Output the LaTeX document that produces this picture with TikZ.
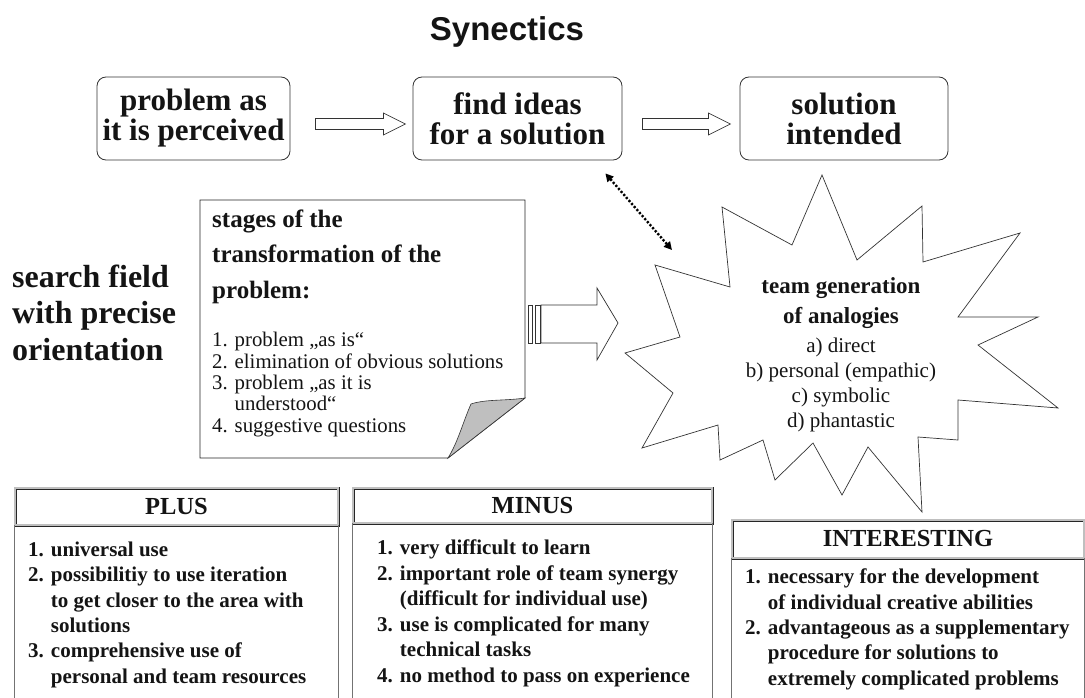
\documentclass[tikz,border=0pt]{standalone}
\usepackage{fontspec}
\setmainfont{Liberation Serif}
\newfontfamily\headfont{Liberation Sans}
\usetikzlibrary{arrows.meta,calc}

\begin{document}
\begin{tikzpicture}[x=1pt,y=-1pt,
  every node/.style={text=black!92},
  rbox/.style={draw=black!80, line width=0.8pt, rounded corners=9pt, align=center,
    inner sep=0pt, font=\fontsize{31}{30}\selectfont\bfseries},
  hollow/.style={draw=black!80, line width=0.7pt, fill=white, line join=miter},
  % multi-line text: the base anchor sits on the last line
  listtext/.style={anchor=base west, inner sep=0pt, align=left},
  headbox/.style={draw=black!85, double=gray!50, double distance=1.2pt, line width=0.9pt,
    inner sep=0pt, font=\fontsize{24.5}{24}\selectfont\bfseries},
  bodyline/.style={draw=black!55, line width=0.6pt},
  starline/.style={draw=black!80, line width=0.7pt, line join=miter},
  pageline/.style={draw=black!85, line width=0.8pt},
  dotarrow/.style={line width=2.4pt, dash pattern=on 2.2pt off 1.8pt,
    {Triangle[length=8pt,width=8pt]}-{Triangle[length=8pt,width=8pt]}},
]
\useasboundingbox (0,0) rectangle (1085,698);

% title
\node[anchor=base, inner sep=0pt, font=\headfont\fontsize{33}{33}\selectfont\bfseries] (title) at (507,41) {Synectics};

% top row of process boxes
\node[rbox, minimum width=193pt, minimum height=83pt] (perc) at (193.5,118.5) {problem as\\it is perceived};
\node[rbox, minimum width=209pt, minimum height=83pt] (ideas) at (517.5,118.5) {find ideas\\for a solution};
\node[rbox, minimum width=208pt, minimum height=83pt] (sol) at (844,118.5) {solution\\intended};

% hollow arrows between the boxes
\draw[hollow, shift={($(perc.east)+(25,5.5)$)}]
  (0,-5.5) -- (68,-5.5) -- (68,-11) -- (90,0) -- (68,11) -- (68,5.5) -- (0,5.5) -- cycle;
\draw[hollow, shift={($(ideas.east)+(20,5.5)$)}]
  (0,-5.5) -- (66,-5.5) -- (66,-11) -- (88,0) -- (66,11) -- (66,5.5) -- (0,5.5) -- cycle;

% left caption
\node[listtext, font=\fontsize{32}{36.5}\selectfont\bfseries] (field) at (12,360) {search field\\with precise\\orientation};

% sheet with a folded corner
\draw[pageline, fill=white] (200,200) -- (525,200) -- (525,398) -- (448,458) -- (200,458) -- cycle;
\filldraw[fill=gray!50, draw=black!80, line width=0.6pt]
  (525,398) .. controls (505,401) and (486,399) .. (471,404)
  .. controls (463,422) and (458,442) .. (448,458) -- cycle;
\coordinate (pageE) at (525,324);
\node[listtext, font=\fontsize{25}{35.5}\selectfont\bfseries] (stagehead) at (212,298)
  {stages of the\\transformation of the\\problem:};
\node[listtext, font=\fontsize{20.8}{21.3}\selectfont] (stages) at (212,432)
  {1. problem „as is“\\2. elimination of obvious solutions\\3. problem „as it is\\\phantom{3. }understood“\\4. suggestive questions};

% block arrow from the sheet towards the star
\begin{scope}[shift={($(pageE)+(3,0)$)}, hollow]
  \draw (0,-19) rectangle (4,19);
  \draw (7,-19) rectangle (12,19);
  \draw (13,-19) -- (69,-19) -- (69,-36) -- (90,-1) -- (69,36) -- (69,19) -- (13,19) -- cycle;
\end{scope}

% star of analogies
\draw[starline] (822,175) -- (857,260) -- (922,206) -- (923,262) -- (1020,233) -- (958,317)
  -- (1038,317) -- (978,345) -- (1058,408) -- (958,400) -- (958,440) -- (918,437)
  -- (922,512) -- (868,447) -- (842,495) -- (813,443) -- (775,480) -- (763,440)
  -- (720,460) -- (718,425) -- (642,448) -- (673,393) -- (625,353) -- (680,337)
  -- (655,265) -- (730,287) -- (722,207) -- (792,245) -- cycle;
\coordinate (starNW) at (672,250);
\node[anchor=base, inner sep=0pt, align=center, font=\fontsize{23}{29.5}\selectfont\bfseries] (analog) at (841,323)
  {team generation\\of analogies};
\node[anchor=base, inner sep=0pt, align=center, font=\fontsize{21}{25}\selectfont] (kinds) at (841,427)
  {a) direct\\b) personal (empathic)\\c) symbolic\\d) phantastic};

% dotted two-way link
\coordinate (ideasSE) at ($(ideas.south east)+(-17,13)$);
\draw[dotarrow] (ideasSE) -- (starNW);

% PLUS / MINUS / INTERESTING panels
\node[headbox, minimum width=323pt, minimum height=37pt] (plus) at (176.5,506.5) {PLUS};
\node[headbox, minimum width=359pt, minimum height=35pt] (minus) at (532.5,505.5) {MINUS};
\node[headbox, minimum width=352pt, minimum height=38pt] (inter) at (908,539) {INTERESTING};

\draw[bodyline] (plus.south west) -- ++(0,180) (plus.south east) -- ++(0,180);
\draw[bodyline] (minus.south west) -- ++(0,180) (minus.south east) -- ++(0,180);
\draw[bodyline] (inter.south west) -- ++(0,150) (inter.south east) -- ++(0,150);

\node[listtext, font=\fontsize{21}{25.3}\selectfont\bfseries] (plusitems) at (28,683)
  {1. universal use\\2. possibilitiy to use iteration\\\phantom{2. }to get closer to the area with\\\phantom{2. }solutions\\3. comprehensive use of\\\phantom{3. }personal and team resources};
\node[listtext, font=\fontsize{21}{25.5}\selectfont\bfseries] (minusitems) at (377,682)
  {1. very difficult to learn\\2. important role of team synergy\\\phantom{2. }(difficult for individual use)\\3. use is complicated for many\\\phantom{3. }technical tasks\\4. no method to pass on experience};
\node[listtext, font=\fontsize{21}{25.3}\selectfont\bfseries] (interitems) at (745,685)
  {1. necessary for the development\\\phantom{1. }of individual creative abilities\\2. advantageous as a supplementary\\\phantom{2. }procedure for solutions to\\\phantom{2. }extremely complicated problems};
\end{tikzpicture}
\end{document}
